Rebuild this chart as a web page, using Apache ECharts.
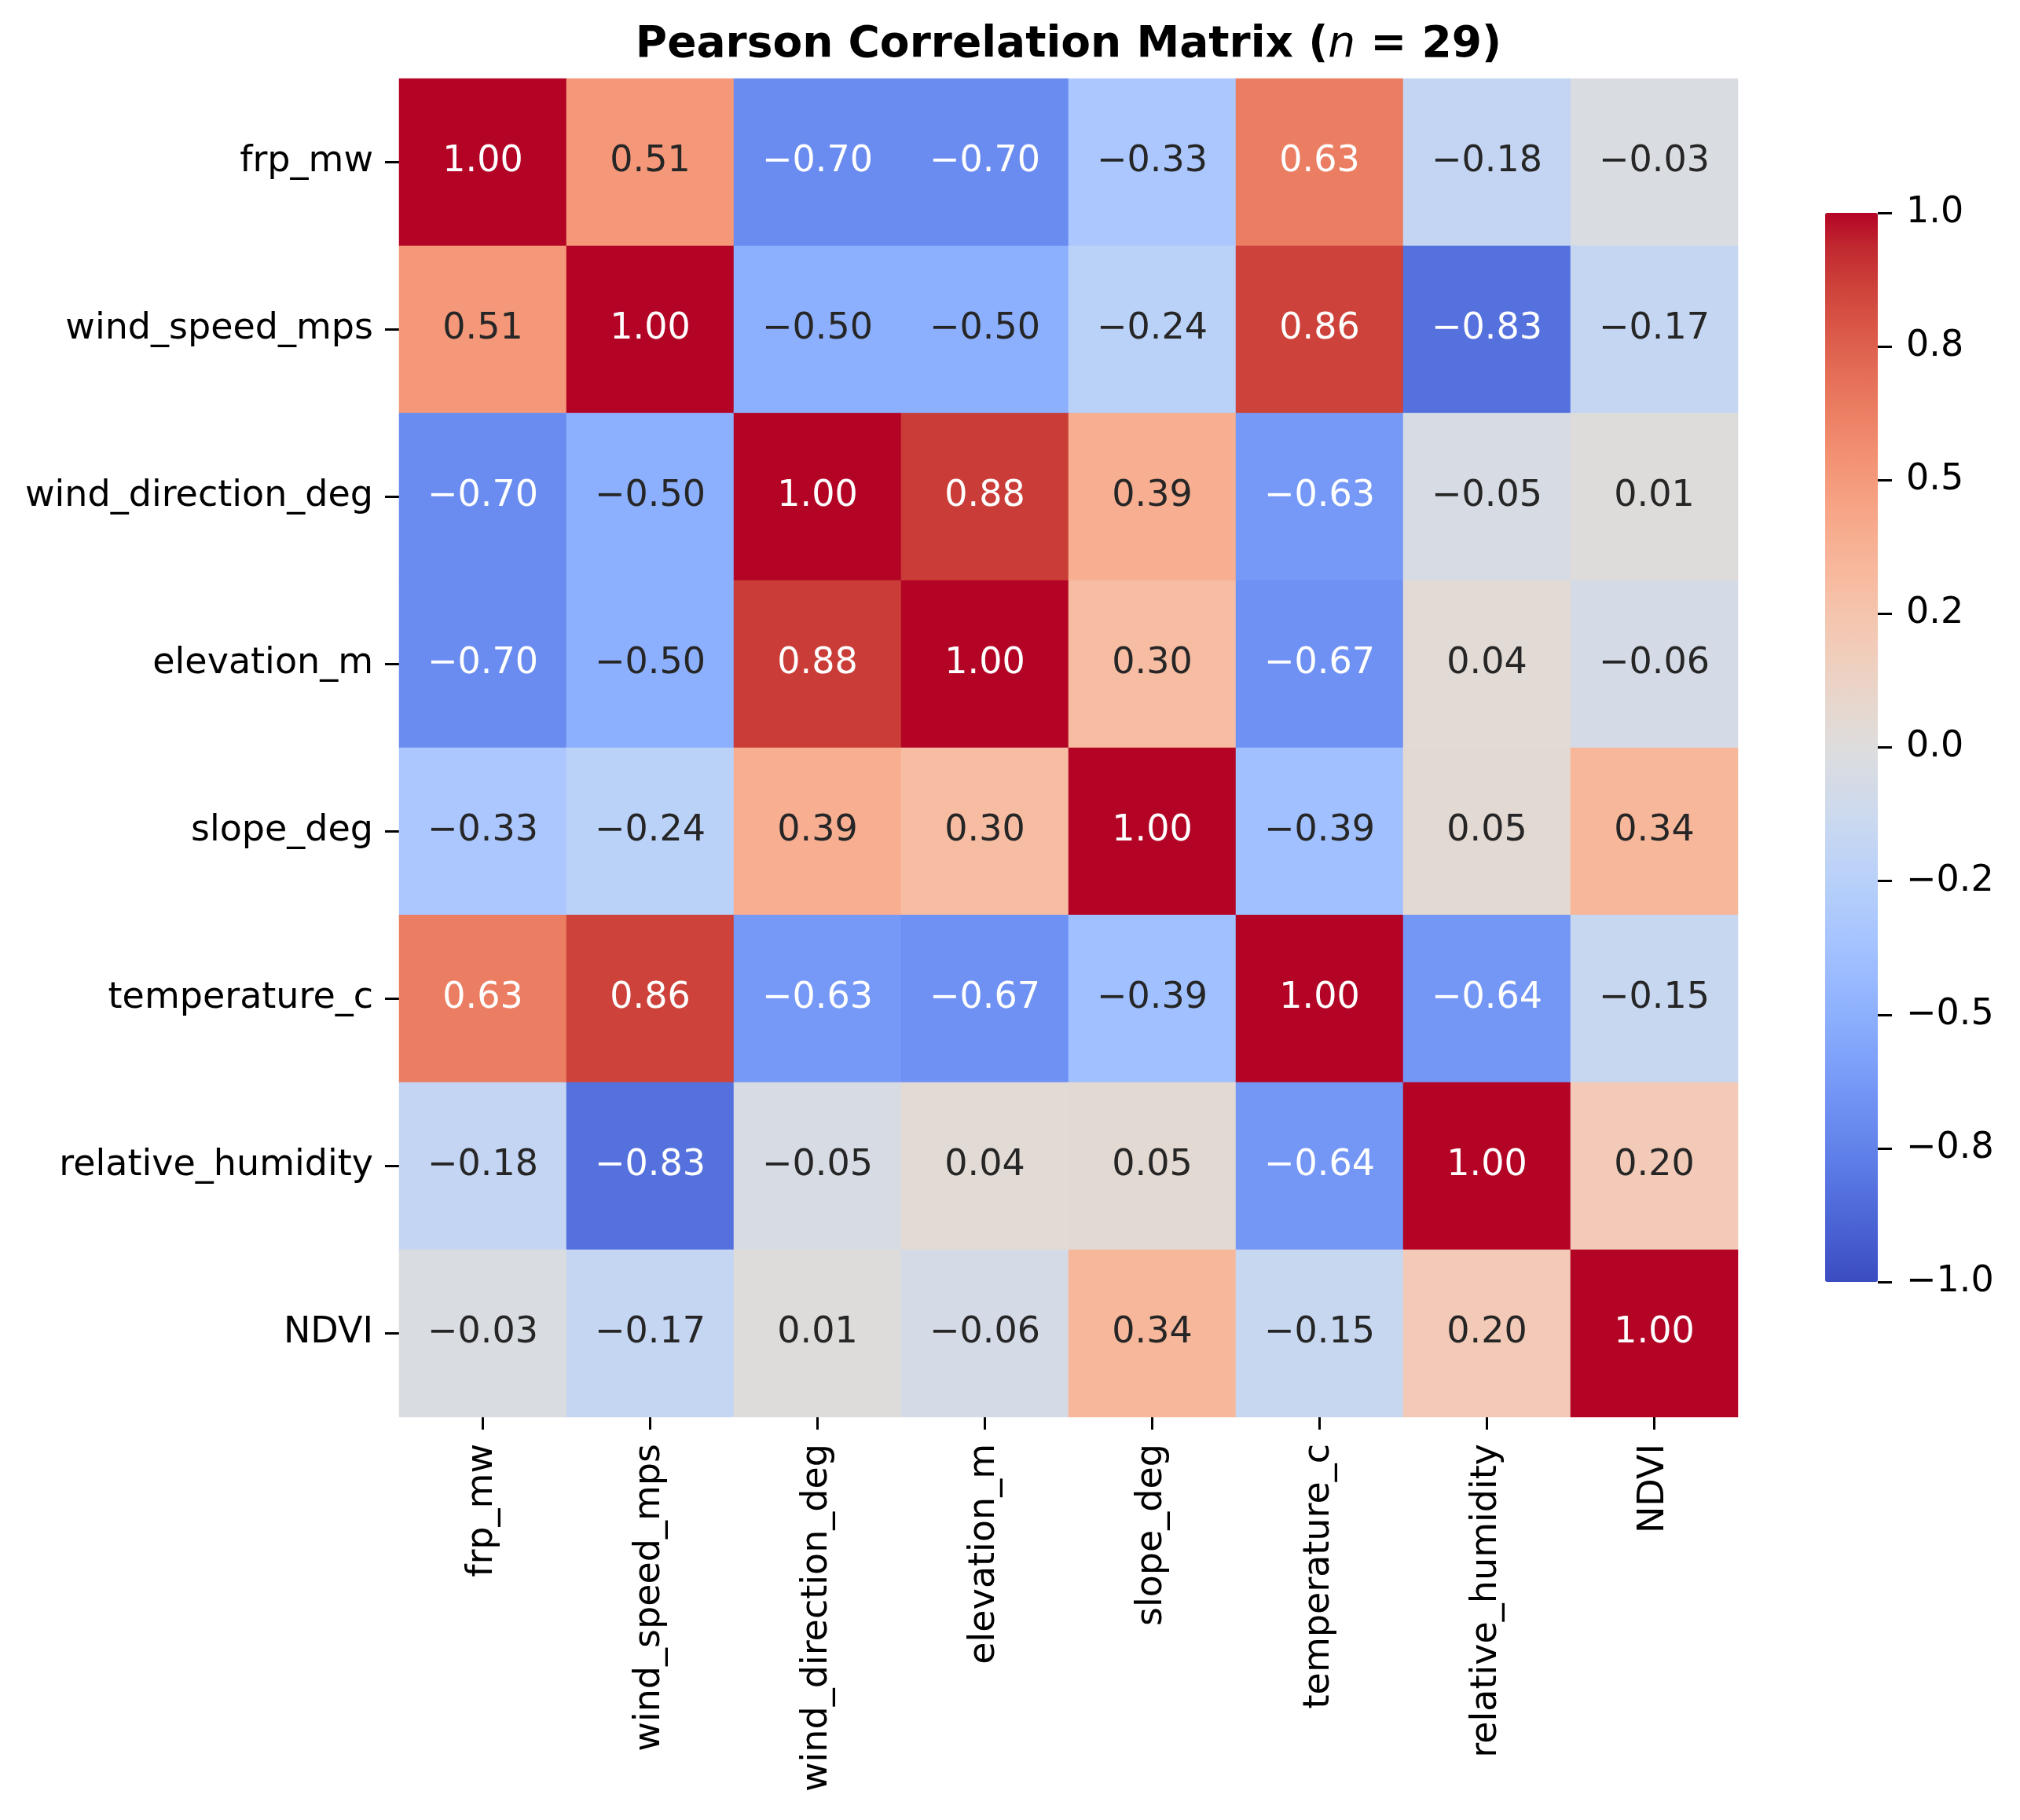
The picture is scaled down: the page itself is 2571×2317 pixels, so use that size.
<!DOCTYPE html>
<html><head><meta charset="utf-8">
<script src="https://cdn.jsdelivr.net/npm/echarts@6/dist/echarts.min.js"></script>
<style>html,body{margin:0;padding:0;background:#fff}#chart{width:2571px;height:2317px}</style>
</head><body><div id="chart"></div>
<script>
const variables = ['frp_mw','wind_speed_mps','wind_direction_deg','elevation_m','slope_deg','temperature_c','relative_humidity','NDVI'];
const row_frp_mw            = [ 1.00,  0.51, -0.70, -0.70, -0.33,  0.63, -0.18, -0.03];
const row_wind_speed_mps    = [ 0.51,  1.00, -0.50, -0.50, -0.24,  0.86, -0.83, -0.17];
const row_wind_direction    = [-0.70, -0.50,  1.00,  0.88,  0.39, -0.63, -0.05,  0.01];
const row_elevation_m       = [-0.70, -0.50,  0.88,  1.00,  0.30, -0.67,  0.04, -0.06];
const row_slope_deg         = [-0.33, -0.24,  0.39,  0.30,  1.00, -0.39,  0.05,  0.34];
const row_temperature_c     = [ 0.63,  0.86, -0.63, -0.67, -0.39,  1.00, -0.64, -0.15];
const row_relative_humidity = [-0.18, -0.83, -0.05,  0.04,  0.05, -0.64,  1.00,  0.20];
const row_NDVI              = [-0.03, -0.17,  0.01, -0.06,  0.34, -0.15,  0.20,  1.00];
const cbarTickValues = [-1, -0.75, -0.5, -0.25, 0, 0.25, 0.5, 0.75, 1];
const cbarTickLabels = ['\u22121.0','\u22120.8','\u22120.5','\u22120.2','0.0','0.2','0.5','0.8','1.0'];
const titleMain = 'Pearson Correlation Matrix (';
const titleVar = 'n';
const titleTail = ' = 29)';

const coolwarm = [
 'rgb(59,76,192)','rgb(68,90,204)','rgb(77,104,215)','rgb(87,117,225)','rgb(98,130,234)','rgb(108,142,241)',
 'rgb(119,154,247)','rgb(130,165,251)','rgb(141,176,254)','rgb(152,185,255)','rgb(163,194,255)','rgb(174,201,253)',
 'rgb(184,208,249)','rgb(194,213,244)','rgb(204,217,238)','rgb(213,219,230)','rgb(221,221,221)','rgb(229,216,209)',
 'rgb(236,211,197)','rgb(241,204,185)','rgb(245,196,173)','rgb(247,187,160)','rgb(247,177,148)','rgb(247,166,135)',
 'rgb(244,154,123)','rgb(241,141,111)','rgb(236,127,99)','rgb(229,112,88)','rgb(222,96,77)','rgb(213,80,66)',
 'rgb(203,62,56)','rgb(192,40,47)','rgb(180,4,38)'];

const rows = [row_frp_mw,row_wind_speed_mps,row_wind_direction,row_elevation_m,row_slope_deg,row_temperature_c,row_relative_humidity,row_NDVI];
const FONT = 'DejaVu Sans';
const data = [];
rows.forEach((r, yi) => r.forEach((v, xi) => {
  data.push({ value: [xi, yi, v], label: { color: Math.abs(v) > 0.55 ? '#ffffff' : '#262626' } });
}));
const fmt = v => (v < 0 ? '\u2212' : '') + Math.abs(v).toFixed(2);

const chart = echarts.init(document.getElementById('chart'), null, { renderer: 'canvas' });
chart.setOption({
  backgroundColor: '#ffffff',
  animation: false,
  title: {
    text: '{b|' + titleMain + '}{i|' + titleVar + '}{b|' + titleTail + '}',
    left: 1360, top: 30, textAlign: 'center', padding: 0,
    textStyle: { rich: {
      b: { fontFamily: FONT, fontSize: 55, fontWeight: 'bold', color: '#000' },
      i: { fontFamily: FONT, fontSize: 55, fontWeight: 'normal', fontStyle: 'italic', color: '#000' }
    } }
  },
  grid: [
    { left: 508, top: 100, width: 1704, height: 1704 },
    { left: 2323, top: 271, width: 67, height: 1361 }
  ],
  xAxis: [
    { type: 'category', data: variables, gridIndex: 0, position: 'bottom',
      axisLine: { show: false }, splitLine: { show: false },
      axisTick: { show: true, alignWithLabel: true, length: 16, lineStyle: { color: '#000', width: 3 } },
      axisLabel: { rotate: 90, margin: 34, fontFamily: FONT, fontSize: 46, color: '#000', interval: 0 } },
    { type: 'category', data: ['cbar'], gridIndex: 1, show: false }
  ],
  yAxis: [
    { type: 'category', data: variables, gridIndex: 0, inverse: true,
      axisLine: { show: false }, splitLine: { show: false },
      axisTick: { show: true, alignWithLabel: true, length: 18, lineStyle: { color: '#000', width: 3 } },
      axisLabel: { margin: 33, fontFamily: FONT, fontSize: 46, color: '#000', interval: 0 } },
    { type: 'value', gridIndex: 1, position: 'right', min: -1, max: 1, interval: 0.25, z: 10,
      axisLine: { show: false, onZero: false }, splitLine: { show: false },
      axisTick: { show: true, length: 18, lineStyle: { color: '#000', width: 3 } },
      axisLabel: { margin: 36, fontFamily: FONT, fontSize: 46, color: '#000',
        formatter: v => { const i = cbarTickValues.findIndex(t => Math.abs(t - v) < 1e-9); return i >= 0 ? cbarTickLabels[i] : ''; } } }
  ],
  visualMap: {
    type: 'continuous', min: -1, max: 1, dimension: 2, seriesIndex: 0, z: 1,
    calculable: false, orient: 'vertical', left: 2323, top: 271, padding: 0,
    itemWidth: 67, itemHeight: 1361, text: null, showLabel: false, hoverLink: false,
    inRange: { color: coolwarm }
  },
  series: [{
    type: 'heatmap', xAxisIndex: 0, yAxisIndex: 0, data: data,
    label: { show: true, fontFamily: FONT, fontSize: 46, formatter: p => fmt(p.value[2]) },
    itemStyle: { borderWidth: 0 },
    emphasis: { disabled: true }
  }]
});
</script></body></html>
